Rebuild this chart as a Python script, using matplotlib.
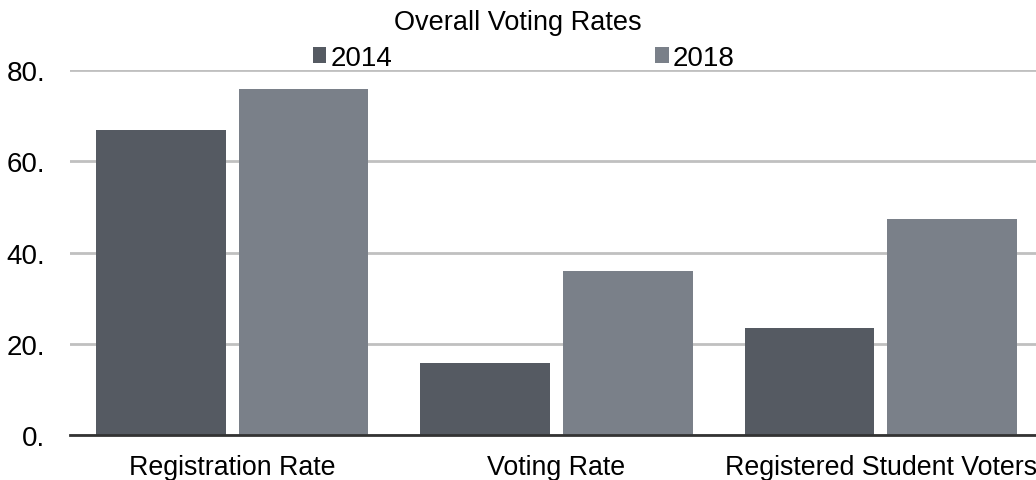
import matplotlib.pyplot as plt
import numpy as np
from matplotlib.ticker import FuncFormatter

categories = ["Registration Rate", "Voting Rate", "Registered Student Voters"]
rates_2014 = [66.8, 15.8, 23.5]
rates_2018 = [75.8, 35.9, 47.3]
years = ["2014", "2018"]
yticks = [0, 20, 40, 60, 80]

plt.rcParams['font.family'] = ['Liberation Sans', 'DejaVu Sans']

fig = plt.figure(figsize=(10.36, 4.81), dpi=100)
ax = fig.add_axes([70 / 1036, 45 / 481, 973 / 1036, 365 / 481])

x = np.arange(len(categories))
width = 0.4
gap = 0.04
ax.bar(x - width / 2 - gap / 2, rates_2014, width, color="#555a62", label=years[0], zorder=3)
ax.bar(x + width / 2 + gap / 2, rates_2018, width, color="#7a8089", label=years[1], zorder=3)

ax.set_xlim(-0.5, 2.5)
ax.set_ylim(0, 80)
ax.set_yticks(yticks)
ax.yaxis.set_major_formatter(FuncFormatter(lambda v, p: "%d." % v))
ax.set_xticks(x)
ax.set_xticklabels(categories)
ax.tick_params(axis="y", length=0, pad=18, labelsize=20)
ax.tick_params(axis="x", length=0, pad=14, labelsize=19.3)

ax.grid(axis="y", color="#c0c0c0", linewidth=2, zorder=0)
for s in ["top", "right", "left"]:
    ax.spines[s].set_visible(False)
ax.spines["bottom"].set_color("#333333")
ax.spines["bottom"].set_linewidth(2)
ax.spines["bottom"].set_zorder(4)

fig.text(0.5, 0.953, "Overall Voting Rates", ha="center", va="center", fontsize=19.5)
fig.legend(loc="center", bbox_to_anchor=(0.5055, 0.877), ncol=2, frameon=False,
           fontsize=20, handlelength=0.5, handleheight=0.5, handletextpad=0.15,
           columnspacing=9.45, borderpad=0)

fig.savefig("out.png", dpi=100)
